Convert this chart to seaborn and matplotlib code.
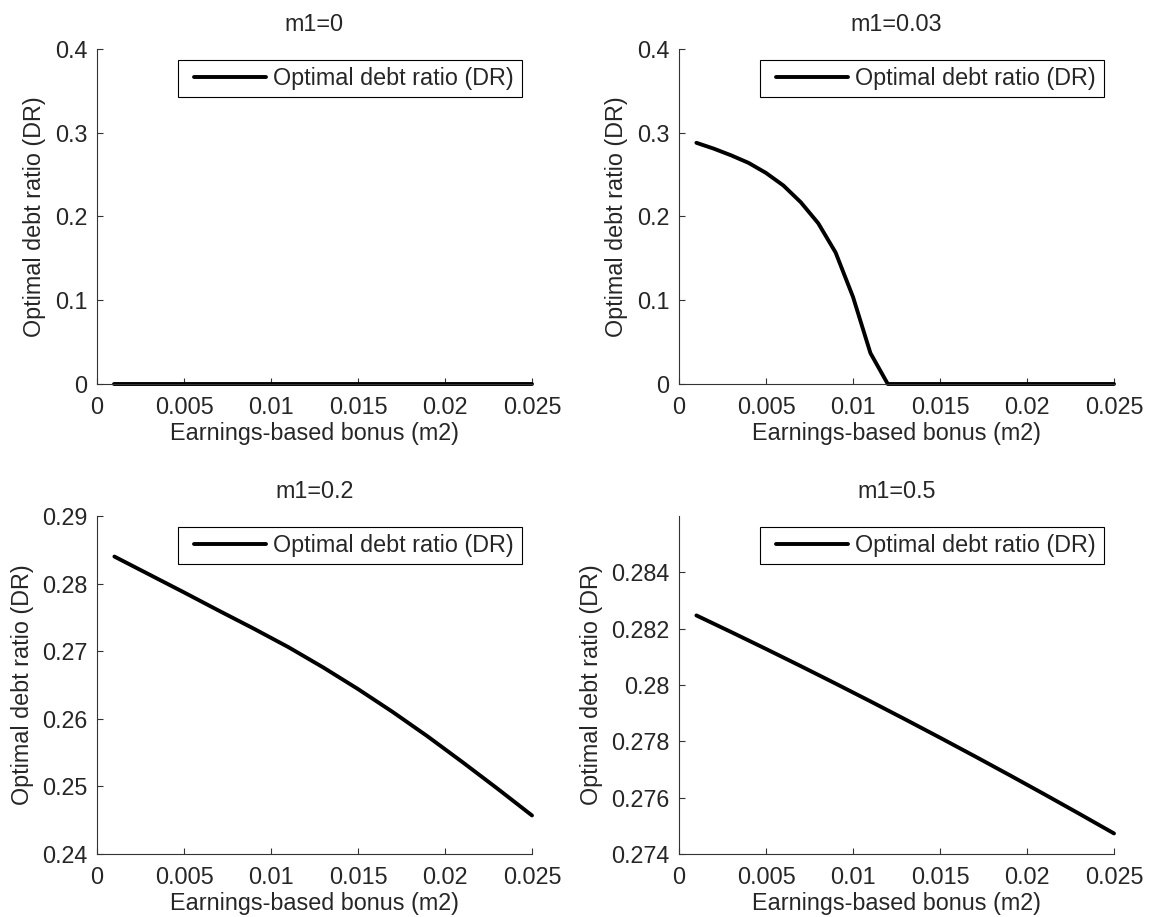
import numpy as np
import pandas as pd
import matplotlib
matplotlib.use("Agg")
import matplotlib.pyplot as plt
import seaborn as sns
from matplotlib.ticker import FuncFormatter
from matplotlib.legend_handler import HandlerLine2D

# ---------------- data ----------------
m2_fine = [0.001, 0.002, 0.003, 0.004, 0.005, 0.006, 0.007, 0.008, 0.009, 0.010,
           0.011, 0.012, 0.013, 0.014, 0.015, 0.016, 0.017, 0.018, 0.019, 0.020,
           0.021, 0.022, 0.023, 0.024, 0.025]
dr_m1_000 = [0.0] * 25
dr_m1_003 = [0.288, 0.281, 0.273, 0.264, 0.252, 0.237, 0.217, 0.192, 0.157, 0.104,
             0.037, 0.0, 0.0, 0.0, 0.0, 0.0, 0.0, 0.0, 0.0, 0.0,
             0.0, 0.0, 0.0, 0.0, 0.0]

m2_coarse = [0.001, 0.003, 0.005, 0.007, 0.009, 0.011, 0.013,
             0.015, 0.017, 0.019, 0.021, 0.023, 0.025]
dr_m1_020 = [0.2840, 0.28135, 0.2787, 0.2760, 0.27335, 0.2706, 0.2676,
             0.2644, 0.2610, 0.2574, 0.2536, 0.2497, 0.2457]
dr_m1_050 = [0.28247, 0.28188, 0.28128, 0.28067, 0.28005, 0.27942, 0.27878,
             0.27813, 0.27747, 0.27680, 0.27612, 0.27543, 0.27473]

titles = ["m1=0", "m1=0.03", "m1=0.2", "m1=0.5"]
x_ticks = [0, 0.005, 0.01, 0.015, 0.02, 0.025]
y_ticks = [[0, 0.1, 0.2, 0.3, 0.4],
           [0, 0.1, 0.2, 0.3, 0.4],
           [0.24, 0.25, 0.26, 0.27, 0.28, 0.29],
           [0.274, 0.276, 0.278, 0.28, 0.282, 0.284]]
y_lims = [(0, 0.4), (0, 0.4), (0.24, 0.29), (0.274, 0.286)]
xlabel = "Earnings-based bonus (m2)"
ylabel = "Optimal debt ratio (DR)"
legend_label = "Optimal debt ratio (DR)"

series = [(m2_fine, dr_m1_000), (m2_fine, dr_m1_003),
          (m2_coarse, dr_m1_020), (m2_coarse, dr_m1_050)]

# ---------------- style ----------------
sns.set_style("ticks")
plt.rcParams['font.family'] = ['Liberation Sans', 'DejaVu Sans']
FS = 16.8


class InsetHandler(HandlerLine2D):
    """Line handle with blank space on its left (MATLAB-like legend)."""
    def create_artists(self, legend, orig_handle, xdescent, ydescent,
                       width, height, fontsize, trans):
        arts = super().create_artists(legend, orig_handle, xdescent, ydescent,
                                      width, height, fontsize, trans)
        line = arts[0]
        xd = np.asarray(line.get_xdata(), dtype=float)
        shift = 0.36 * fontsize
        line.set_xdata(np.linspace(xd[0] + shift, xd[-1], len(xd)))
        return arts


fig = plt.figure(figsize=(11.53, 9.17), dpi=100)
lefts = [97 / 1153, 679 / 1153]
width = 435 / 1153
rows = [(1 - 384 / 917, 335 / 917), (1 - 854 / 917, 338 / 917)]

fmt = FuncFormatter(lambda v, p: ("%g" % v))

for i in range(4):
    r, c = divmod(i, 2)
    ax = fig.add_axes([lefts[c], rows[r][0], width, rows[r][1]])
    xs, ys = series[i]
    df = pd.DataFrame({"m2": xs, "DR": ys})
    sns.lineplot(data=df, x="m2", y="DR", ax=ax, color="black", linewidth=2.8,
                 label=legend_label, clip_on=False)
    ax.set_xlim(0, 0.025)
    ax.set_ylim(*y_lims[i])
    ax.set_xticks(x_ticks)
    ax.set_yticks(y_ticks[i])
    ax.xaxis.set_major_formatter(fmt)
    ax.yaxis.set_major_formatter(fmt)
    ax.tick_params(direction="in", length=4, width=0.8, labelsize=FS,
                   color="#333333", pad=7)
    ax.tick_params(axis="x", pad=9)
    for s in ["top", "right"]:
        ax.spines[s].set_visible(False)
    for s in ["left", "bottom"]:
        ax.spines[s].set_linewidth(0.8)
        ax.spines[s].set_color("#333333")
    ax.set_xlabel(xlabel, fontsize=FS, labelpad=2)
    ax.set_ylabel(ylabel, fontsize=FS, labelpad=6)
    ax.set_title(titles[i], fontsize=FS, pad=13)
    handles, labels = ax.get_legend_handles_labels()
    leg = ax.legend(handles, labels, loc="upper right", fontsize=FS, frameon=True,
                    fancybox=False, edgecolor="black", framealpha=1,
                    handlelength=3.45, handletextpad=0.3, borderpad=0.32,
                    borderaxespad=0.45,
                    handler_map={handles[0]: InsetHandler()})
    leg.get_frame().set_linewidth(0.8)

fig.savefig("out.png", dpi=100)
